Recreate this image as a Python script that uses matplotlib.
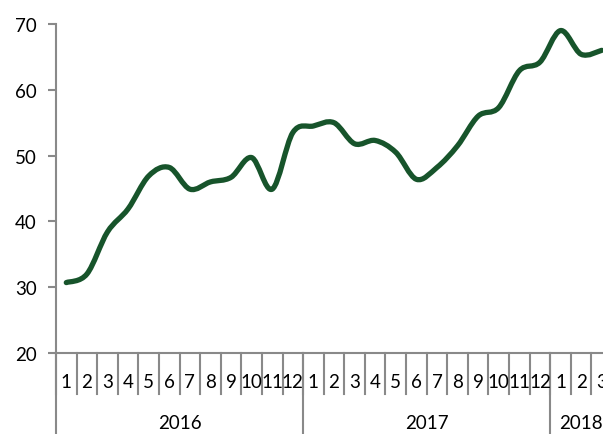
"""Monthly index 2016-2018, smoothed line with two-level category axis."""

import matplotlib

matplotlib.use("Agg")
import matplotlib.pyplot as plt
import matplotlib.transforms as mtransforms
import numpy as np
from matplotlib.patches import PathPatch
from matplotlib.path import Path

months = [str(m) for m in range(1, 13)] * 2 + ["1", "2", "3"]
years = ["2016", "2017", "2018"]
year_counts = [12, 12, 3]
values = [
    30.7, 32.0, 38.4, 41.9, 46.9, 48.2, 44.9, 46.0, 46.7, 49.7, 44.9, 53.5,
    54.5, 55.0, 51.8, 52.3, 50.5, 46.4, 48.2, 51.5, 56.0, 57.3, 62.9, 64.2,
    69.0, 65.4, 66.0,
]

LINE_COLOR = "#17542B"
AXIS_COLOR = "#898989"
plt.rcParams["font.family"] = ["Lato", "DejaVu Sans"]

W, H = 603, 435
fig = plt.figure(figsize=(W / 100, H / 100), dpi=100)
ax = fig.add_axes([56 / W, 81 / H, 556 / W, 329 / H])

n = len(values)
x = np.arange(n, dtype=float)
y = np.array(values)

# smoothed line (Catmull-Rom style Bezier segments, like a spreadsheet "smooth line")
verts = [(x[0], y[0])]
codes = [Path.MOVETO]
for i in range(n - 1):
    p0 = (x[max(i - 1, 0)], y[max(i - 1, 0)])
    p1 = (x[i], y[i])
    p2 = (x[i + 1], y[i + 1])
    p3 = (x[min(i + 2, n - 1)], y[min(i + 2, n - 1)])
    c1 = (p1[0] + (p2[0] - p0[0]) / 6, p1[1] + (p2[1] - p0[1]) / 6)
    c2 = (p2[0] - (p3[0] - p1[0]) / 6, p2[1] - (p3[1] - p1[1]) / 6)
    verts += [c1, c2, p2]
    codes += [Path.CURVE4] * 3
ax.add_patch(PathPatch(Path(verts, codes), facecolor="none", edgecolor=LINE_COLOR,
                       lw=3.8, capstyle="round", joinstyle="round"))

ax.set_xlim(-0.5, n - 0.5)
ax.set_ylim(20, 70)
ax.set_yticks(range(20, 71, 10))
ax.tick_params(axis="y", length=6, width=1.5, color=AXIS_COLOR, labelsize=13.5, pad=8)
ax.set_xticks([])
for side in ("top", "right"):
    ax.spines[side].set_visible(False)
for side in ("left", "bottom"):
    ax.spines[side].set_color(AXIS_COLOR)
    ax.spines[side].set_linewidth(1.5)

# two-level category axis drawn by hand
trans = mtransforms.blended_transform_factory(ax.transData, ax.transAxes)
px = 1 / 329  # one pixel in axes fraction (vertical)
for k in range(n + 1):
    ax.plot([k - 0.5, k - 0.5], [0, -41 * px], color=AXIS_COLOR, lw=1.5,
            transform=trans, clip_on=False)
for i, lab in enumerate(months):
    ax.text(i, -29 * px, lab, transform=trans, ha="center", va="center", fontsize=13.5)

start = 0
for yr, cnt in zip(years, year_counts):
    ax.plot([start - 0.5, start - 0.5], [0, -90 * px], color=AXIS_COLOR, lw=1.5,
            transform=trans, clip_on=False)
    ax.text(start + (cnt - 1) / 2, -70 * px, yr, transform=trans,
            ha="center", va="center", fontsize=13.5)
    start += cnt

fig.savefig("out.png", dpi=100)
